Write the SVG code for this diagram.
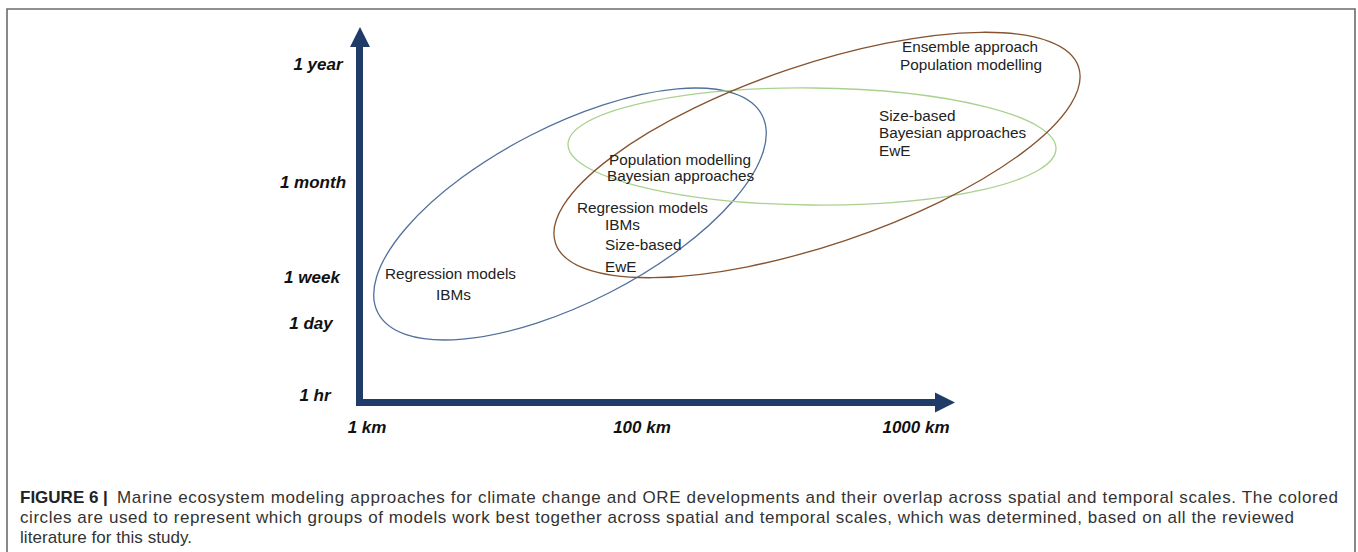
<svg xmlns="http://www.w3.org/2000/svg" width="1358" height="552" viewBox="0 0 1358 552">
  <style>
    .frame { fill: none; stroke: #6b6b6b; stroke-width: 1.6; }
    .axis { fill: #1f3b68; }
    .tick { font-family: "Liberation Sans", Arial, sans-serif; font-weight: bold; font-style: italic; font-size: 17px; fill: #111; text-anchor: middle; }
    .lbl { font-family: "Liberation Sans", Arial, sans-serif; font-size: 15.3px; fill: #222; }
    .ell { fill: none; stroke-width: 1.3; }
    .cap { font-family: "Liberation Sans", Arial, sans-serif; font-size: 17px; fill: #333; }
    .capb { font-family: "Liberation Sans", Arial, sans-serif; font-size: 17px; font-weight: bold; fill: #222; }
  </style>
  <rect x="0" y="0" width="1358" height="552" fill="#ffffff"/>
  <path class="frame" d="M7,560 V9 H1355 V560"/>

  <g id="axes">
    <path class="axis" d="M356,46 L356,406 L935,406 L935,399 L363,399 L363,46 Z"/>
    <polygon class="axis" points="360,27 350,47 370,47"/>
    <polygon class="axis" points="955,402.5 935,392.5 935,412.5"/>
  </g>

  <g id="y-labels">
    <text class="tick" x="318" y="70">1 year</text>
    <text class="tick" x="313" y="188">1 month</text>
    <text class="tick" x="312" y="283">1 week</text>
    <text class="tick" x="311" y="329">1 day</text>
    <text class="tick" x="315" y="401">1 hr</text>
  </g>
  <g id="x-labels">
    <text class="tick" x="367" y="433">1 km</text>
    <text class="tick" x="642" y="433">100 km</text>
    <text class="tick" x="916" y="433">1000 km</text>
  </g>

  <g id="blue-ellipse">
    <ellipse class="ell" stroke="#52709c" cx="570" cy="214" rx="216" ry="88" transform="rotate(-27.2 570 214)"/>
    <text class="lbl" x="385" y="279">Regression models</text>
    <text class="lbl" x="436" y="300">IBMs</text>
  </g>

  <g id="green-ellipse">
    <ellipse class="ell" stroke="#aad28f" cx="812" cy="146.5" rx="244" ry="58.5" transform="rotate(0.5 812 146.5)"/>
    <text class="lbl" x="879" y="121">Size-based</text>
    <text class="lbl" x="879" y="138">Bayesian approaches</text>
    <text class="lbl" x="879" y="156">EwE</text>
  </g>

  <g id="brown-ellipse">
    <ellipse class="ell" stroke="#85532f" cx="817" cy="155" rx="276" ry="90" transform="rotate(-18.65 817 155)"/>
    <text class="lbl" x="902" y="52">Ensemble approach</text>
    <text class="lbl" x="900" y="70">Population modelling</text>
  </g>

  <g id="overlap">
    <text class="lbl" x="609" y="165">Population modelling</text>
    <text class="lbl" x="607" y="181">Bayesian approaches</text>
    <text class="lbl" x="577" y="213">Regression models</text>
    <text class="lbl" x="605" y="230">IBMs</text>
    <text class="lbl" x="605" y="250">Size-based</text>
    <text class="lbl" x="605" y="272">EwE</text>
  </g>

  <g id="caption">
    <text class="capb" x="20" y="503">FIGURE 6 |</text>
    <text class="cap" x="117" y="503" textLength="1221">Marine ecosystem modeling approaches for climate change and ORE developments and their overlap across spatial and temporal scales. The colored</text>
    <text class="cap" x="20" y="523" textLength="1274">circles are used to represent which groups of models work best together across spatial and temporal scales, which was determined, based on all the reviewed</text>
    <text class="cap" x="20" y="543" textLength="172">literature for this study.</text>
  </g>
</svg>
